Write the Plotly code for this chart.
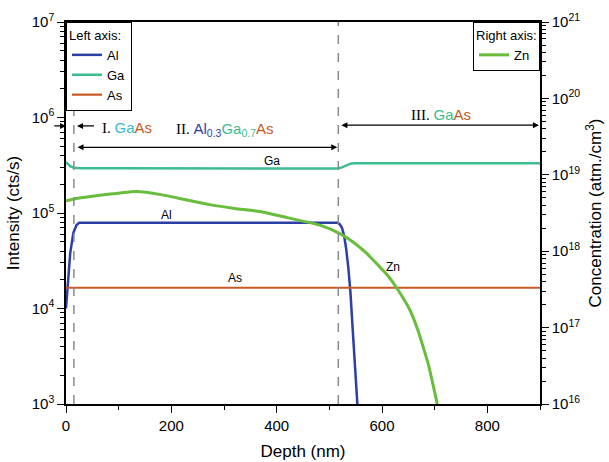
import plotly.graph_objects as go

# ---------------- data ----------------
al_depth = [0, 4, 8, 14, 20, 25, 100, 200, 300, 400, 500, 516, 520, 524, 528, 532, 536, 540, 544, 548, 552, 555]
al_val = [1.0e4, 2.0e4, 3.8e4, 6.2e4, 7.5e4, 7.9e4, 7.9e4, 7.9e4, 7.9e4, 7.9e4, 7.9e4, 7.9e4,
          7.6e4, 7.0e4, 5.8e4, 4.2e4, 2.7e4, 1.5e4, 6.5e3, 2.5e3, 1.0e3, 7.0e2]

ga_depth = [0, 3, 8, 15, 30, 100, 200, 300, 400, 500, 516, 524, 532, 540, 548, 600, 700, 800, 900]
ga_val = [3.4e5, 3.3e5, 3.1e5, 2.98e5, 2.95e5, 2.94e5, 2.94e5, 2.93e5, 2.94e5, 2.93e5, 2.92e5,
          3.0e5, 3.15e5, 3.28e5, 3.31e5, 3.31e5, 3.32e5, 3.31e5, 3.32e5]

as_depth = [0, 100, 200, 300, 400, 500, 600, 700, 800, 900]
as_val = [1.65e4, 1.65e4, 1.65e4, 1.65e4, 1.65e4, 1.65e4, 1.65e4, 1.65e4, 1.65e4, 1.65e4]

zn_depth = [0, 20, 50, 100, 135, 180, 230, 273, 320, 368, 420, 482, 520, 545, 570, 595,
            612, 628, 653, 669, 678, 688, 697, 704, 708]
zn_val = [4.57e18, 4.90e18, 5.25e18, 5.75e18, 6.03e18, 5.50e18, 4.68e18, 4.07e18, 3.63e18,
          3.31e18, 2.75e18, 2.19e18, 1.70e18, 1.32e18, 9.5e17, 6.3e17, 4.7e17, 3.3e17,
          1.7e17, 8.9e16, 5.6e16, 3.3e16, 1.78e16, 1.07e16, 7.9e15]

boundaries = [15, 517]

left_tickvals = [1e3, 1e4, 1e5, 1e6, 1e7]
left_ticktext = ["10<sup>3</sup>", "10<sup>4</sup>", "10<sup>5</sup>", "10<sup>6</sup>", "10<sup>7</sup>"]
right_tickvals = [1e16, 1e17, 1e18, 1e19, 1e20, 1e21]
right_ticktext = ["10<sup>16</sup>", "10<sup>17</sup>", "10<sup>18</sup>", "10<sup>19</sup>",
                  "10<sup>20</sup>", "10<sup>21</sup>"]

# ---------------- style ----------------
C_AL = "#2b3fa5"
C_GA = "#3dbd8e"
C_GA_I = "#3cb8cc"
C_AS = "#c65a24"
C_ZN = "#69bd3d"
FONT = "Liberation Sans, Arial, sans-serif"
SERIF = "Liberation Serif"

fig = go.Figure()
fig.add_trace(go.Scatter(x=al_depth, y=al_val, mode="lines", name="Al",
                         line=dict(color=C_AL, width=2.5), legend="legend"))
fig.add_trace(go.Scatter(x=ga_depth, y=ga_val, mode="lines", name="Ga",
                         line=dict(color=C_GA, width=2.5), legend="legend"))
fig.add_trace(go.Scatter(x=as_depth, y=as_val, mode="lines", name="As",
                         line=dict(color=C_AS, width=2.2), legend="legend"))
fig.add_trace(go.Scatter(x=zn_depth, y=zn_val, mode="lines", name="Zn",
                         line=dict(color=C_ZN, width=3, shape="spline", smoothing=0.6),
                         yaxis="y2", legend="legend2"))

# dashed boundaries
for b in boundaries:
    fig.add_shape(type="line", xref="x", yref="paper", x0=b, x1=b, y0=0, y1=1,
                  line=dict(color="#8a8a8a", width=1.5, dash="dash"))

# arrows
def arrow(head, tail, ypaper, both=False):
    fig.add_annotation(x=head, y=ypaper, xref="x", yref="paper",
                       ax=tail, ay=0, axref="x", ayref="pixel",
                       showarrow=True, arrowhead=2, arrowsize=1, arrowwidth=1.2,
                       arrowcolor="black", text="",
                       arrowside="end+start" if both else "end",
                       startarrowhead=2, startarrowsize=1)

arrow(0, -25, 0.728)
arrow(boundaries[0] + 6, 56, 0.728)
arrow(boundaries[1] - 2, boundaries[0] + 4, 0.672, both=True)
arrow(898, boundaries[1] + 3, 0.730, both=True)

def label(text, x, y, size=15, xanchor="left"):
    fig.add_annotation(x=x, y=y, xref="x", yref="paper", text=text, showarrow=False,
                       xanchor=xanchor, yanchor="middle",
                       font=dict(family=FONT, size=size, color="black"))

sp = lambda c, t: f"<span style='color:{c}'>{t}</span>"
label(f"<span style='font-family:{SERIF}'>I. </span>" + sp(C_GA_I, "Ga") + sp(C_AS, "As"), 64, 0.725)
label(f"<span style='font-family:{SERIF}'>II. </span>" + sp(C_AL, "Al<sub>0.3</sub>")
      + sp(C_GA, "Ga<sub>0.7</sub>") + sp(C_AS, "As"), 206, 0.718)
label(f"<span style='font-family:{SERIF}'>III. </span>" + sp(C_GA, "Ga") + sp(C_AS, "As"), 652, 0.757)

label("Ga", 392, 0.636, size=12, xanchor="center")
label("Al", 191, 0.495, size=12, xanchor="center")
label("As", 320, 0.330, size=12, xanchor="center")
label("Zn", 620, 0.359, size=12, xanchor="center")

axis_common = dict(showline=True, linecolor="black", linewidth=1.5, ticks="outside",
                   tickcolor="black", tickwidth=1.2, showgrid=False, zeroline=False,
                   automargin=False,
                   tickfont=dict(family=FONT, size=15, color="black"))

fig.update_layout(
    width=609, height=462,
    margin=dict(l=66, r=69, t=22, b=58, autoexpand=False),
    paper_bgcolor="white", plot_bgcolor="white",
    font=dict(family=FONT, color="black"),
    xaxis=dict(range=[0, 900], dtick=200, ticklen=7, mirror=True,
               minor=dict(dtick=100, ticks="outside", ticklen=4, tickcolor="black"),
               title=dict(text="Depth (nm)", font=dict(family=FONT, size=17), standoff=12),
               **axis_common),
    yaxis=dict(type="log", range=[3, 7], tickmode="array", tickvals=left_tickvals,
               ticktext=left_ticktext, ticklen=7,
               minor=dict(dtick="D1", ticks="outside", ticklen=4, tickcolor="black"),
               title=dict(text="Intensity (cts/s)", font=dict(family=FONT, size=17), standoff=8),
               **axis_common),
    yaxis2=dict(type="log", range=[16, 21], overlaying="y", side="right",
                tickmode="array", tickvals=right_tickvals, ticktext=right_ticktext, ticklen=7,
                minor=dict(dtick="D1", ticks="outside", ticklen=4, tickcolor="black"),
                title=dict(text="Concentration (atm./cm<sup>3</sup>)",
                           font=dict(family=FONT, size=17), standoff=10),
                **axis_common),
    legend=dict(x=0, y=1, xanchor="left", yanchor="top", bgcolor="white",
                bordercolor="black", borderwidth=1, itemwidth=30,
                title=dict(text="Left axis:", font=dict(family=FONT, size=13)),
                font=dict(family=FONT, size=13), tracegroupgap=0),
    legend2=dict(x=1, y=1, xanchor="right", yanchor="top", bgcolor="white",
                 bordercolor="black", borderwidth=1, itemwidth=30,
                 title=dict(text="Right axis:", font=dict(family=FONT, size=13)),
                 font=dict(family=FONT, size=13)),
    showlegend=True,
)

fig.write_html("out.html", config={"displayModeBar": False},
               post_script="document.body.style.margin='0px';")
